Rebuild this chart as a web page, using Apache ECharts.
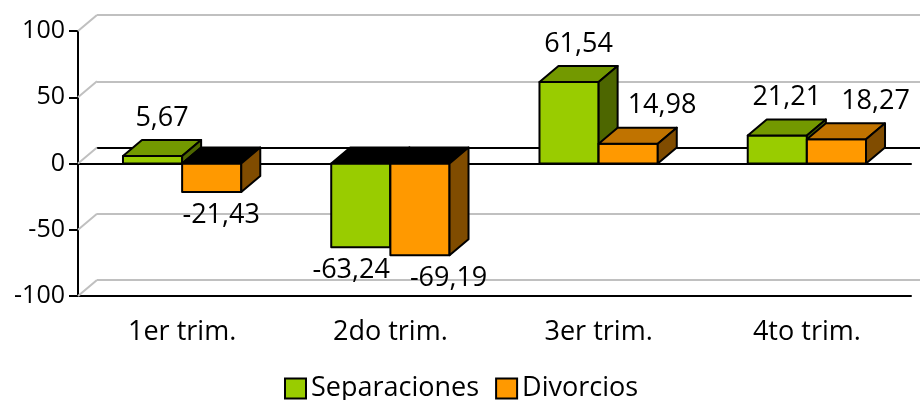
<!DOCTYPE html>
<html>
<head>
<meta charset="utf-8">
<script src="https://cdn.jsdelivr.net/npm/echarts@6/dist/echarts.min.js"></script>
<style>
  body { margin: 0; background: #fff; }
  #main { width: 920px; height: 400px; }
</style>
</head>
<body>
<div id="main"></div>
<script>
var categories = ['1er trim.', '2do trim.', '3er trim.', '4to trim.'];
var separaciones = [5.67, -63.24, 61.54, 21.21];
var divorcios = [-21.43, -69.19, 14.98, 18.27];
var yTicks = [-100, -50, 0, 50, 100];

var seriesValues = [separaciones, divorcios];
var FONT = '"Open Sans", sans-serif';
var LABEL_SIZE = 27;
// profundidad del efecto 3D
var DX = 19, DY = -16;
var BAR_RATIO = 0.284;
var colors = [
    { front: '#99CC00', top: '#739900', side: '#4D6600' },
    { front: '#FF9900', top: '#C07300', side: '#804C00' }
];

var measureCtx = document.createElement('canvas').getContext('2d');
function textWidth(text, size) {
    measureCtx.font = size + 'px ' + FONT;
    return measureCtx.measureText(text).width;
}
function fmt(v) {
    return v.toFixed(2).replace('.', ',');
}

function barBox(api, i, s) {
    var v = seriesValues[s][i];
    var p0 = api.coord([i, 0]);
    var p1 = api.coord([i, v]);
    var w = api.size([1, 0])[0] * BAR_RATIO;
    return {
        x: p0[0] - w + s * w,
        w: w,
        top: Math.min(p0[1], p1[1]),
        bot: Math.max(p0[1], p1[1]),
        v: v
    };
}

// posiciones de etiquetas, evitando que se monten
function placeLabels(api, i) {
    var bs = [barBox(api, i, 0), barBox(api, i, 1)];
    var ls = bs.map(function (b, s) {
        var t = fmt(seriesValues[s][i]);
        return {
            text: t,
            w: textWidth(t, LABEL_SIZE),
            h: 26,
            cx: b.x + b.w / 2 + DX / 2,
            cy: b.v >= 0 ? b.top + DY - 22 : b.bot + 23
        };
    });
    var g = bs[0], a = ls[0], o = ls[1];
    var gRight = g.x + g.w + DX;
    if (o.cy + o.h / 2 > g.top + DY && o.cy - o.h / 2 < g.bot &&
        o.cx - o.w / 2 < gRight + 10) {
        o.cx = gRight + 10 + o.w / 2;
    }
    if (Math.abs(a.cy - o.cy) < (a.h + o.h) / 2) {
        var need = (a.w + o.w) / 2 + 20 - (o.cx - a.cx);
        if (need > 0) {
            if (a.cy > g.bot) {
                // ambas debajo: se separan hacia los dos lados
                a.cx -= need / 2;
                o.cx += need / 2;
            } else {
                o.cx += need;
            }
        }
    }
    return ls;
}

function makeBarRender(s) {
    return function (params, api) {
        var i = api.value(0);
        var b = barBox(api, i, s);
        var c = colors[s];
        var x0 = b.x, x1 = b.x + b.w;
        var lbl = placeLabels(api, i)[s];
        var stroke = { stroke: '#000', lineWidth: 2, lineJoin: 'round' };
        return {
            type: 'group',
            children: [{
                type: 'rect',
                shape: { x: x0, y: b.top, width: b.w, height: b.bot - b.top },
                style: Object.assign({ fill: c.front }, stroke)
            }, {
                type: 'polygon',
                shape: { points: [[x0, b.top], [x1, b.top], [x1 + DX, b.top + DY], [x0 + DX, b.top + DY]] },
                style: Object.assign({ fill: b.v >= 0 ? c.top : '#000' }, stroke)
            }, {
                type: 'polygon',
                shape: { points: [[x1, b.top], [x1 + DX, b.top + DY], [x1 + DX, b.bot + DY], [x1, b.bot]] },
                style: Object.assign({ fill: c.side }, stroke)
            }, {
                type: 'text',
                style: {
                    text: lbl.text,
                    x: lbl.cx,
                    y: lbl.cy,
                    fill: '#000',
                    fontSize: LABEL_SIZE,
                    fontFamily: FONT,
                    align: 'center',
                    verticalAlign: 'middle',
                    textAlign: 'center',
                    textVerticalAlign: 'middle'
                }
            }]
        };
    };
}

var myChart = echarts.init(document.getElementById('main'));

var option = {
    animation: false,
    textStyle: { fontFamily: FONT, color: '#000' },
    legend: {
        data: ['Separaciones', 'Divorcios'],
        left: 279,
        top: 370,
        itemWidth: 21,
        itemHeight: 20,
        itemGap: 16,
        icon: 'rect',
        textStyle: { fontSize: 27, fontFamily: FONT, color: '#000' }
    },
    grid: [
        { left: 78, right: 9, top: 31, bottom: 104 },
        { left: 78 + DX, right: 0, top: 31 + DY, bottom: 104 - DY }
    ],
    xAxis: [{
        type: 'category',
        gridIndex: 0,
        data: categories,
        position: 'bottom',
        axisLine: { onZero: false, lineStyle: { color: '#000', width: 2 } },
        axisTick: { length: 7, lineStyle: { color: '#000', width: 2 } },
        axisLabel: { fontSize: 27, color: '#000', margin: 23, fontFamily: FONT }
    }, {
        type: 'category',
        gridIndex: 0,
        data: categories,
        position: 'bottom',
        axisLine: { onZero: true, lineStyle: { color: '#000', width: 2 } },
        axisTick: { length: 7, lineStyle: { color: '#000', width: 2 } },
        axisLabel: { show: false }
    }, {
        type: 'category',
        gridIndex: 1,
        data: categories,
        axisLine: { onZero: true, lineStyle: { color: '#000', width: 2 } },
        axisTick: { show: false },
        axisLabel: { show: false }
    }],
    yAxis: [{
        type: 'value',
        gridIndex: 0,
        min: -100,
        max: 100,
        interval: 50,
        axisLine: { show: true, lineStyle: { color: '#000', width: 2 } },
        axisTick: { show: true, length: 9, lineStyle: { color: '#000', width: 2 } },
        axisLabel: { fontSize: 25, color: '#000', margin: 13, fontFamily: FONT },
        splitLine: { show: false }
    }, {
        type: 'value',
        gridIndex: 1,
        min: -100,
        max: 100,
        interval: 50,
        axisLine: { show: false },
        axisTick: { show: false },
        axisLabel: { show: false },
        splitLine: { lineStyle: { color: '#C0C0C0', width: 2 } }
    }],
    series: [{
        // aristas de la pared lateral
        type: 'custom',
        xAxisIndex: 0,
        yAxisIndex: 0,
        silent: true,
        z: 1,
        data: yTicks.map(function (v) { return [0, v]; }),
        renderItem: function (params, api) {
            var p = api.coord([0, api.value(1)]);
            var x = params.coordSys.x;
            return {
                type: 'line',
                shape: { x1: x, y1: p[1], x2: x + DX, y2: p[1] + DY },
                style: { stroke: '#C0C0C0', lineWidth: 2 }
            };
        }
    }, {
        name: 'Separaciones',
        type: 'custom',
        xAxisIndex: 0,
        yAxisIndex: 0,
        z: 3,
        itemStyle: { color: colors[0].front, borderColor: '#000', borderWidth: 2 },
        data: separaciones.map(function (v, i) { return [i, v]; }),
        renderItem: makeBarRender(0)
    }, {
        name: 'Divorcios',
        type: 'custom',
        xAxisIndex: 0,
        yAxisIndex: 0,
        z: 4,
        itemStyle: { color: colors[1].front, borderColor: '#000', borderWidth: 2 },
        data: divorcios.map(function (v, i) { return [i, v]; }),
        renderItem: makeBarRender(1)
    }]
};

myChart.setOption(option);
window.onresize = function () {
    myChart.resize();
};
</script>
</body>
</html>
